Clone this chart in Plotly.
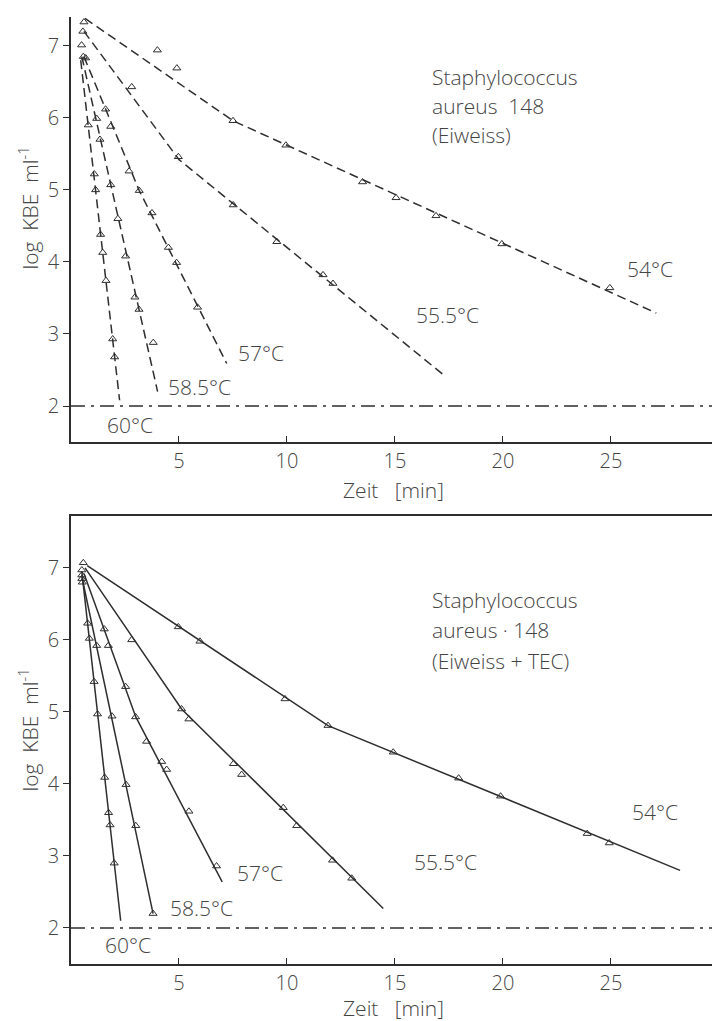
import plotly.graph_objects as go

# ---------------- data ----------------
TEMPS = ["54°C", "55.5°C", "57°C", "58.5°C", "60°C"]
THRESHOLD = 2
X_TICKS = [5, 10, 15, 20, 25]
Y_TICKS = [2, 3, 4, 5, 6, 7]

# Top panel: Staphylococcus aureus 148 (Eiweiss) -- measured points
E54_t = [0.6, 4.0, 4.9, 7.5, 9.95, 13.5, 15.05, 16.9, 19.95, 24.95]
E54_y = [7.33, 6.94, 6.69, 5.96, 5.62, 5.11, 4.89, 4.64, 4.25, 3.64]
E55_t = [0.55, 2.81, 4.97, 7.51, 9.53, 11.67, 12.13]
E55_y = [7.2, 6.43, 5.46, 4.79, 4.28, 3.82, 3.70]
E57_t = [0.49, 1.6, 1.84, 2.69, 3.16, 3.75, 4.51, 4.89, 5.86]
E57_y = [7.01, 6.12, 5.88, 5.26, 4.99, 4.68, 4.20, 3.99, 3.37]
E58_t = [0.57, 1.19, 1.34, 1.84, 2.17, 2.53, 2.96, 3.15, 3.81]
E58_y = [6.85, 5.99, 5.70, 5.07, 4.60, 4.08, 3.51, 3.34, 2.88]
E60_t = [0.68, 0.80, 1.08, 1.14, 1.37, 1.47, 1.62, 1.93, 2.02]
E60_y = [6.83, 5.90, 5.22, 5.00, 4.38, 4.13, 3.74, 2.93, 2.68]

# Top panel fitted curves (dashed)
E54_fit_t = [0.65, 7.5, 27.1]
E54_fit_y = [7.38, 5.96, 3.29]
E55_fit_t = [0.6, 5.0, 17.3]
E55_fit_y = [7.2, 5.42, 2.42]
E57_fit_t = [0.6, 3.16, 7.21]
E57_fit_y = [6.85, 4.99, 2.59]
E58_fit_t = [0.5, 4.01]
E58_fit_y = [6.85, 2.20]
E60_fit_t = [0.45, 2.25]
E60_fit_y = [6.8, 2.08]

# Bottom panel: Staphylococcus aureus 148 (Eiweiss + TEC) -- measured points
T54_t = [0.57, 4.97, 5.97, 9.91, 11.9, 14.92, 17.95, 19.89, 23.9, 24.92]
T54_y = [7.07, 6.18, 5.98, 5.18, 4.81, 4.44, 4.08, 3.83, 3.31, 3.18]
T55_t = [0.5, 2.81, 5.12, 5.46, 7.52, 7.9, 9.83, 10.45, 12.11, 13.0]
T55_y = [6.97, 6.00, 5.04, 4.90, 4.28, 4.13, 3.67, 3.42, 2.94, 2.69]
T57_t = [0.5, 1.54, 1.73, 2.53, 2.99, 3.5, 4.2, 4.43, 5.46, 6.74]
T57_y = [6.9, 6.15, 5.92, 5.35, 4.93, 4.59, 4.31, 4.2, 3.62, 2.86]
T58_t = [0.5, 1.19, 1.90, 2.55, 3.0, 3.8]
T58_y = [6.85, 5.92, 4.94, 3.99, 3.42, 2.20]
T60_t = [0.52, 0.77, 0.85, 1.07, 1.23, 1.56, 1.74, 1.81, 2.0]
T60_y = [6.8, 6.23, 6.02, 5.42, 4.97, 4.09, 3.60, 3.43, 2.90]

# Bottom panel fitted curves (solid)
T54_fit_t = [0.75, 11.9, 28.2]
T54_fit_y = [7.03, 4.81, 2.80]
T55_fit_t = [0.65, 5.12, 14.46]
T55_fit_y = [7.0, 5.04, 2.27]
T57_fit_t = [0.6, 3.0, 7.0]
T57_fit_y = [6.92, 4.93, 2.64]
T58_fit_t = [0.5, 3.8]
T58_fit_y = [6.88, 2.2]
T60_fit_t = [0.5, 2.3]
T60_fit_y = [6.95, 2.1]

# label positions (data coords) for the temperature labels
TOP_LABEL_T = [26.81, 17.41, 8.80, 5.93, 2.73]
TOP_LABEL_Y = [3.90, 3.26, 2.74, 2.26, 1.74]
BOT_LABEL_T = [27.04, 17.36, 8.75, 6.02, 2.64]
BOT_LABEL_Y = [3.61, 2.92, 2.76, 2.28, 1.76]

TOP_TITLE = ["Staphylococcus", "aureus  148", "(Eiweiss)"]
BOT_TITLE = ["Staphylococcus", "aureus · 148", "(Eiweiss + TEC)"]

# ---------------- style ----------------
INK = "#2e2e2e"
TXT = "#444444"
FONT = "Open Sans"
FS = 21
FS_TICK = 20
FW = 300

def tfont(size=FS):
    return dict(size=size, color=TXT, family=FONT, weight=FW)

fig = go.Figure()

top_sets = [(E54_t, E54_y, E54_fit_t, E54_fit_y), (E55_t, E55_y, E55_fit_t, E55_fit_y),
            (E57_t, E57_y, E57_fit_t, E57_fit_y), (E58_t, E58_y, E58_fit_t, E58_fit_y),
            (E60_t, E60_y, E60_fit_t, E60_fit_y)]
bot_sets = [(T54_t, T54_y, T54_fit_t, T54_fit_y), (T55_t, T55_y, T55_fit_t, T55_fit_y),
            (T57_t, T57_y, T57_fit_t, T57_fit_y), (T58_t, T58_y, T58_fit_t, T58_fit_y),
            (T60_t, T60_y, T60_fit_t, T60_fit_y)]

for sets, xa, ya, dash in [(top_sets, "x", "y", "9px,5px"), (bot_sets, "x2", "y2", "solid")]:
    for name, (mt, my, ft, fy) in zip(TEMPS, sets):
        fig.add_trace(go.Scatter(x=ft, y=fy, mode="lines", xaxis=xa, yaxis=ya,
                                 line=dict(color=INK, width=1.5, dash=dash),
                                 showlegend=False, hoverinfo="skip", name=name))
        fig.add_trace(go.Scatter(x=mt, y=my, mode="markers", xaxis=xa, yaxis=ya,
                                 marker=dict(symbol="triangle-up-open", size=7,
                                             color=INK, line=dict(width=1, color=INK)),
                                 showlegend=False, name=name))

# threshold lines
for xr, yr in [("x domain", "y"), ("x2 domain", "y2")]:
    fig.add_shape(type="line", xref=xr, yref=yr, x0=0, x1=1, y0=THRESHOLD, y1=THRESHOLD,
                  line=dict(color=INK, width=1.5, dash="14px,6px,3px,6px"))

ann = []
for name, t, y in zip(TEMPS, TOP_LABEL_T, TOP_LABEL_Y):
    ann.append(dict(x=t, y=y, xref="x", yref="y", text=name, showarrow=False,
                    xanchor="center", yanchor="middle", font=tfont()))
for name, t, y in zip(TEMPS, BOT_LABEL_T, BOT_LABEL_Y):
    ann.append(dict(x=t, y=y, xref="x2", yref="y2", text=name, showarrow=False,
                    xanchor="center", yanchor="middle", font=tfont()))

for i, line in enumerate(TOP_TITLE):
    ann.append(dict(x=16.62, y=6.57 - 0.405 * i, xref="x", yref="y", text=line, showarrow=False,
                    xanchor="left", yanchor="middle", font=tfont()))
for i, line in enumerate(BOT_TITLE):
    ann.append(dict(x=16.62, y=6.56 - 0.425 * i, xref="x2", yref="y2", text=line, showarrow=False,
                    xanchor="left", yanchor="middle", font=tfont()))

# axis titles
for xr, yr, ydom in [("x", "y", -0.113), ("x2", "y2", -0.098)]:
    ann.append(dict(x=14.95, y=ydom, xref=xr, yref=yr + " domain", text="Zeit   [min]",
                    showarrow=False, xanchor="center", yanchor="middle", font=tfont()))
    ann.append(dict(x=-0.066, y=4.75, xref="paper", yref=yr, text="log  KBE  ml<sup>-1</sup>",
                    showarrow=False, textangle=-90, xanchor="center", yanchor="middle",
                    font=tfont()))

XR = [0, 29.68]
common_x = dict(range=XR, tickvals=X_TICKS, ticks="inside", ticklen=6, tickwidth=1.2,
                tickcolor=INK, showline=True, linecolor=INK, linewidth=1.5,
                showgrid=False, zeroline=False, tickfont=tfont(FS_TICK))
common_y = dict(tickvals=Y_TICKS, ticks="outside", ticklen=6, tickwidth=1.2, tickcolor=INK,
                showline=True, linecolor=INK, linewidth=1.5, showgrid=False, zeroline=False,
                tickfont=tfont(FS_TICK))

fig.update_layout(
    width=712, height=1021,
    margin=dict(l=71, r=0, t=17, b=57),
    paper_bgcolor="white", plot_bgcolor="white",
    xaxis=dict(**common_x, domain=[0, 1], anchor="y"),
    yaxis=dict(**common_y, domain=[0.5512, 1.0], range=[1.5, 7.4], anchor="x"),
    xaxis2=dict(**common_x, domain=[0, 1], anchor="y2", mirror=True),
    yaxis2=dict(**common_y, domain=[0, 0.4731], range=[1.5, 7.72], anchor="x2"),
    annotations=ann,
)

fig.write_html("out.html")
